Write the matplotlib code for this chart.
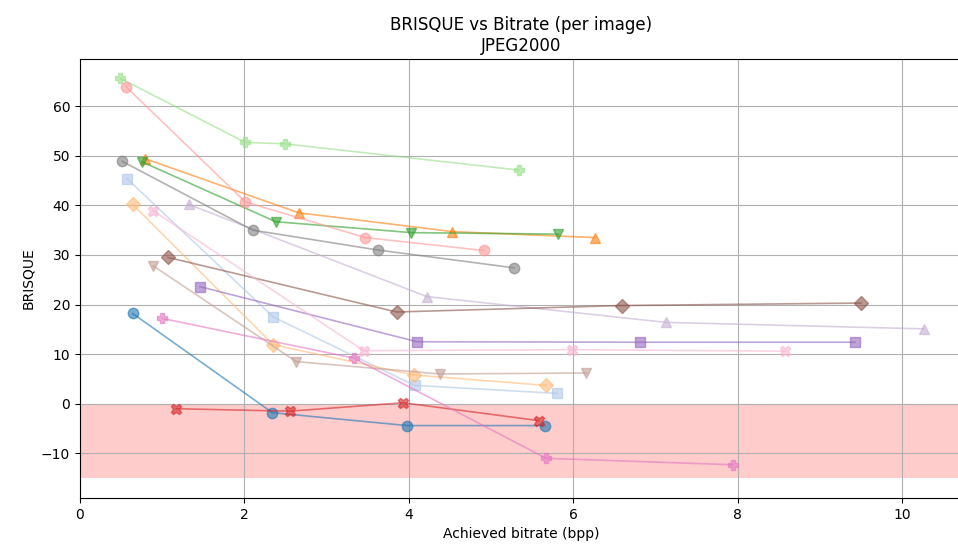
import matplotlib
matplotlib.use("Agg")
import matplotlib.pyplot as plt

# bitrate (bpp) and BRISQUE score per image
bitrates = [
    [0.64, 2.34, 3.98, 5.65],
    [0.57, 2.35, 4.07, 5.80],
    [0.79, 2.66, 4.53, 6.26],
    [0.64, 2.35, 4.06, 5.67],
    [0.75, 2.38, 4.03, 5.82],
    [0.49, 2.01, 2.49, 5.34],
    [1.17, 2.55, 3.93, 5.58],
    [0.56, 2.01, 3.47, 4.91],
    [1.46, 4.10, 6.81, 9.43],
    [1.32, 4.22, 7.13, 10.26],
    [1.07, 3.85, 6.59, 9.50],
    [0.89, 2.63, 4.38, 6.16],
    [1.00, 3.33, 5.67, 7.94],
    [0.89, 3.45, 5.99, 8.58],
    [0.51, 2.10, 3.62, 5.28],
]
brisque = [
    [18.2, -1.8, -4.4, -4.4],
    [45.4, 17.5, 3.7, 2.1],
    [49.4, 38.5, 34.7, 33.5],
    [40.2, 11.9, 5.8, 3.7],
    [48.8, 36.7, 34.5, 34.2],
    [65.6, 52.7, 52.4, 47.1],
    [-1.0, -1.5, 0.2, -3.4],
    [63.9, 40.7, 33.5, 30.9],
    [23.6, 12.5, 12.4, 12.4],
    [40.2, 21.6, 16.4, 15.1],
    [29.5, 18.5, 19.8, 20.3],
    [27.8, 8.5, 6.0, 6.2],
    [17.2, 9.2, -11.0, -12.3],
    [38.9, 10.7, 10.9, 10.6],
    [48.9, 35.0, 31.0, 27.4],
]
markers = ['o', 's', '^', 'D', 'v', 'P', 'X']
bad_zone = (-15, 0)

fig = plt.figure(figsize=(9.58, 5.49), dpi=100)
ax = fig.add_axes([80 / 958, 51 / 549, 883 / 958, 439 / 549])

cmap = plt.get_cmap('tab20')
for i in range(len(bitrates)):
    ax.plot(bitrates[i], brisque[i], marker=markers[i % len(markers)],
            color=cmap(i), alpha=0.6, markersize=7.5, linewidth=1.2)

# shaded band for negative scores
ax.axhspan(bad_zone[0], bad_zone[1], color='red', alpha=0.2, linewidth=0)

ax.set_xlim(0, 10.74)
ax.set_ylim(-19.0, 69.5)
ax.grid(True)
ax.set_xlabel('Achieved bitrate (bpp)')
ax.set_ylabel('BRISQUE')
ax.set_title('BRISQUE vs Bitrate (per image)\nJPEG2000')

fig.savefig('out.png', dpi=100)
